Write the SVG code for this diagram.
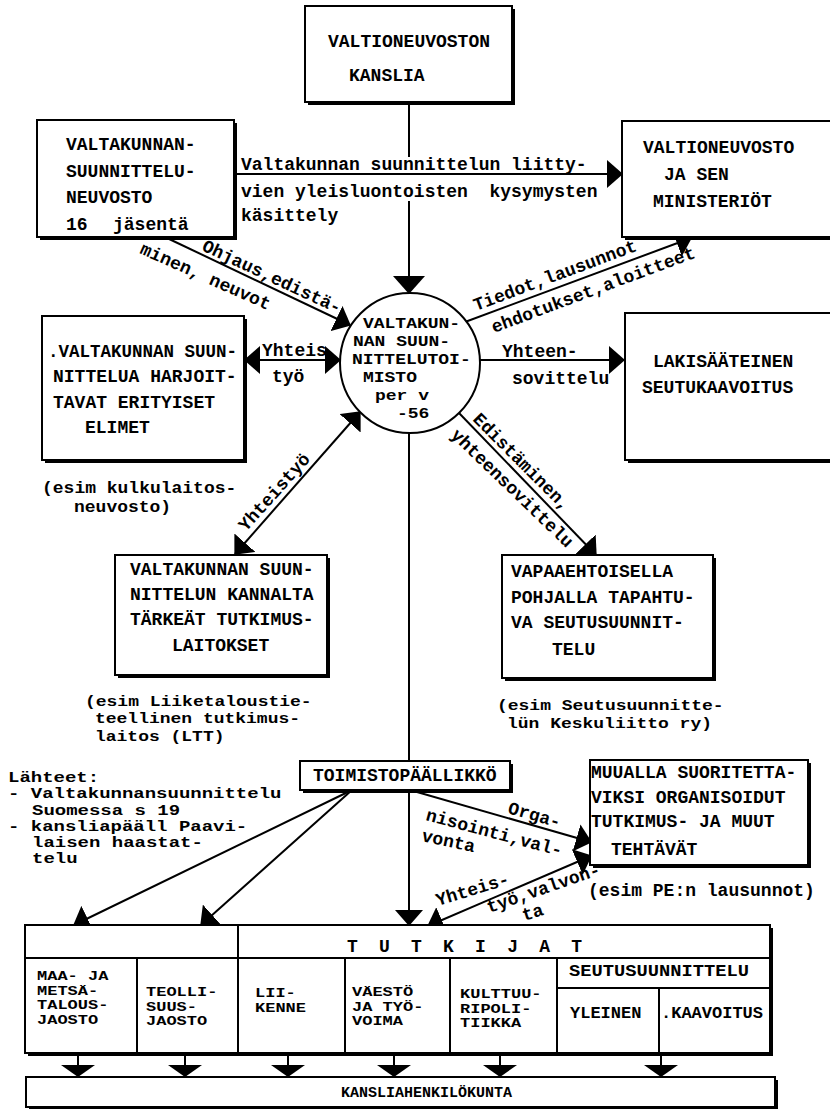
<svg xmlns="http://www.w3.org/2000/svg" width="830" height="1109" viewBox="0 0 830 1109">
<style>
.box{fill:#fff;stroke:#000;stroke-width:2}
.sh{fill:none;stroke:#000;stroke-width:4}
.ln{fill:none;stroke:#000;stroke-width:2}
.t{font-family:"Liberation Mono","DejaVu Sans Mono",monospace;font-weight:bold;font-size:18px;fill:#000;white-space:pre}
.s17{font-size:17px}
.s19{font-size:19px}
.s15{font-size:15px}
</style>
<defs>
<marker id="a" viewBox="0 0 16 28" refX="15" refY="14" markerWidth="16" markerHeight="28" markerUnits="userSpaceOnUse" orient="auto-start-reverse"><path d="M0,0 L16,14 L0,28 Z"/></marker>
<marker id="ab" viewBox="0 0 18 32" refX="17" refY="16" markerWidth="18" markerHeight="32" markerUnits="userSpaceOnUse" orient="auto-start-reverse"><path d="M0,0 L18,16 L0,32 Z"/></marker>
<marker id="af" viewBox="0 0 12 34" refX="12" refY="17" markerWidth="12" markerHeight="34" markerUnits="userSpaceOnUse" orient="auto"><path d="M0,0 L12,17 L0,34 Z"/></marker>
</defs>
<rect width="830" height="1109" fill="#fff"/>

<g id="connectors">
<path class="ln" d="M409,102 V157"/>
<path class="ln" d="M409,201 V293" marker-end="url(#ab)"/>
<path class="ln" d="M234,174 H622" marker-end="url(#a)"/>
<path class="ln" d="M167,238 L350,325" marker-end="url(#a)"/>
<path class="ln" d="M245,360 H340" marker-start="url(#a)" marker-end="url(#a)"/>
<path class="ln" d="M465,322 L691,238" marker-end="url(#a)"/>
<path class="ln" d="M480,360 H624" marker-end="url(#a)"/>
<path class="ln" d="M360,412 L235,554" marker-start="url(#a)" marker-end="url(#a)"/>
<path class="ln" d="M459,413 L596,555" marker-end="url(#a)"/>
<path class="ln" d="M409,433 V761"/>
<path class="ln" d="M409,790 V925" marker-end="url(#a)"/>
<path class="ln" d="M352,790 L74,925" marker-end="url(#a)"/>
<path class="ln" d="M352,790 L201,925" marker-end="url(#a)"/>
<path class="ln" d="M410,790 L591,842" marker-end="url(#a)"/>
<path class="ln" d="M591,856 L428,926" marker-start="url(#a)" marker-end="url(#a)"/>
<path class="ln" d="M78,1054 V1077" marker-end="url(#af)"/>
<path class="ln" d="M185,1054 V1077" marker-end="url(#af)"/>
<path class="ln" d="M288,1054 V1077" marker-end="url(#af)"/>
<path class="ln" d="M394,1054 V1077" marker-end="url(#af)"/>
<path class="ln" d="M500,1054 V1077" marker-end="url(#af)"/>
<path class="ln" d="M661,1054 V1077" marker-end="url(#af)"/>
</g>

<g id="connector-labels">
<text class="t" x="241" y="170">Valtakunnan suunnittelun liitty-</text>
<text class="t" x="241" y="197">vien yleisluontoisten  kysymysten</text>
<text class="t" x="241" y="221">käsittely</text>
<text class="t" transform="translate(201,250) rotate(25)">Ohjaus,edistä-</text>
<text class="t" transform="translate(139,253) rotate(24)">minen, neuvot</text>
<text class="t" transform="translate(476,311) rotate(-20.5)">Tiedot,lausunnot</text>
<text class="t" transform="translate(494,333) rotate(-20.5)">ehdotukset,aloitteet</text>
<text class="t" x="262" y="356">Yhteis</text>
<text class="t" x="272" y="382">työ</text>
<text class="t" x="502" y="357">Yhteen-</text>
<text class="t" x="512" y="384">sovittelu</text>
<text class="t" transform="translate(246,532) rotate(-48)">Yhteistyö</text>
<text class="t" transform="translate(472,420) rotate(45)">Edistäminen,</text>
<text class="t" transform="translate(450,436) rotate(44)">yhteensovittelu</text>
<text class="t" transform="translate(507,813) rotate(16)">Orga-</text>
<text class="t" transform="translate(425,820) rotate(15)">nisointi,val-</text>
<text class="t" transform="translate(421,841) rotate(12)">vonta</text>
<text class="t" transform="translate(438,906) rotate(-17)">Yhteis-</text>
<text class="t" transform="translate(489,913) rotate(-19)">työ,valvon-</text>
<text class="t" transform="translate(524,921) rotate(-17)">ta</text>
</g>

<g id="n-kanslia">
<rect class="box" x="305" y="6" width="207" height="96"/>
<path class="sh" d="M513,9 V103 H308"/>
<text class="t" x="328" y="47">VALTIONEUVOSTON</text>
<text class="t" x="349" y="81">KANSLIA</text>
</g>

<g id="n-neuvosto">
<rect class="box" x="37" y="120" width="197" height="117"/>
<path class="sh" d="M235,123 V238 H40"/>
<text class="t" x="66" y="150">VALTAKUNNAN-</text>
<text class="t" x="66" y="177">SUUNNITTELU-</text>
<text class="t" x="66" y="203">NEUVOSTO</text>
<text class="t" y="230"><tspan x="66">16</tspan><tspan x="113">jäsentä</tspan></text>
</g>

<g id="n-ministeriot">
<rect class="box" x="622" y="121" width="218" height="116"/>
<path class="sh" d="M625,238 H840"/>
<text class="t" x="643" y="153">VALTIONEUVOSTO</text>
<text class="t" x="664" y="180">JA SEN</text>
<text class="t" x="653" y="207">MINISTERIÖT</text>
</g>

<g id="n-toimisto">
<circle cx="410" cy="363" r="70" fill="#fff" stroke="#000" stroke-width="2"/>
<text class="t" transform="translate(363,328) scale(1,0.86)">VALTAKUN-</text>
<text class="t" transform="translate(353,346) scale(1,0.86)">NAN SUUN-</text>
<text class="t" transform="translate(352,364) scale(1,0.86)">NITTELUTOI-</text>
<text class="t" transform="translate(363,382) scale(1,0.86)">MISTO</text>
<text class="t" transform="translate(375,400) scale(1,0.86)">per v</text>
<text class="t" transform="translate(397,418) scale(1,0.86)">-56</text>
</g>

<g id="n-elimet">
<rect class="box" x="42" y="316" width="202" height="144"/>
<path class="sh" d="M245,319 V461 H45"/>
<text class="t" style="font-size:17.5px" x="48" y="357">.VALTAKUNNAN SUUN-</text>
<text class="t" x="53" y="382">NITTELUA HARJOIT-</text>
<text class="t" x="53" y="408">TAVAT ERITYISET</text>
<text class="t" x="85" y="433">ELIMET</text>
</g>

<g id="n-seutukaavoitus">
<rect class="box" x="625" y="313" width="215" height="147"/>
<path class="sh" d="M628,461 H840"/>
<text class="t" x="653" y="367">LAKISÄÄTEINEN</text>
<text class="t" x="642" y="393">SEUTUKAAVOITUS</text>
</g>

<g id="note-kulku">
<text class="t" transform="translate(42,493) scale(1,0.9)">(esim kulkulaitos-</text>
<text class="t" transform="translate(74,512) scale(1,0.9)">neuvosto)</text>
</g>

<g id="n-tutkimuslaitokset">
<rect class="box" x="115" y="555" width="212" height="120"/>
<path class="sh" d="M328,558 V676 H118"/>
<text class="t" x="130" y="575">VALTAKUNNAN SUUN-</text>
<text class="t" x="130" y="600">NITTELUN KANNALTA</text>
<text class="t" x="130" y="625">TÄRKEÄT TUTKIMUS-</text>
<text class="t" x="172" y="651">LAITOKSET</text>
</g>

<g id="n-vapaaehtoinen">
<rect class="box" x="502" y="555" width="211" height="123"/>
<path class="sh" d="M714,558 V679 H505"/>
<text class="t" x="511" y="577">VAPAAEHTOISELLA</text>
<text class="t" x="511" y="603">POHJALLA TAPAHTU-</text>
<text class="t" x="511" y="628">VA SEUTUSUUNNIT-</text>
<text class="t" x="552" y="655">TELU</text>
</g>

<g id="notes">
<text class="t" transform="translate(85,706) scale(1,0.8)">(esim Liiketaloustie-</text>
<text class="t" transform="translate(95,723) scale(1,0.8)">teellinen tutkimus-</text>
<text class="t" transform="translate(95,741) scale(1,0.8)">laitos (LTT)</text>
<text class="t" transform="translate(497,710) scale(1,0.86)">(esim Seutusuunnitte-</text>
<text class="t" transform="translate(507,728) scale(1,0.86)">lün Keskuliitto ry)</text>
<text class="t s19" transform="translate(8,782) scale(1,0.75)">Lähteet:</text>
<text class="t s19" transform="translate(8,798) scale(1,0.75)">- Valtakunnansuunnittelu</text>
<text class="t s19" transform="translate(32,814.5) scale(1,0.75)">Suomessa s 19</text>
<text class="t s19" transform="translate(8,831) scale(1,0.75)">- kansliapääll Paavi-</text>
<text class="t s19" transform="translate(32,847) scale(1,0.75)">laisen haastat-</text>
<text class="t s19" transform="translate(32,863) scale(1,0.75)">telu</text>
<text class="t" x="588" y="896">(esim PE:n lausunnot)</text>
</g>

<g id="n-toimistopaallikko">
<rect class="box" x="300" y="761" width="210" height="29"/>
<path class="sh" d="M511,764 V791 H303"/>
<text class="t" x="313" y="781">TOIMISTOPÄÄLLIKKÖ</text>
</g>

<g id="n-muualla">
<rect class="box" x="590" y="760" width="218" height="105"/>
<path class="sh" d="M809,763 V866 H593"/>
<text class="t" x="591" y="778">MUUALLA SUORITETTA-</text>
<text class="t" x="591" y="803">VIKSI ORGANISOIDUT</text>
<text class="t" x="591" y="827">TUTKIMUS- JA MUUT</text>
<text class="t" x="611" y="855">TEHTÄVÄT</text>
</g>

<g id="n-tutkijat">
<rect class="box" x="25" y="925" width="745" height="128"/>
<path class="sh" d="M771,928 V1054 H28"/>
<path class="ln" d="M25,958 H770 M238,925 V1053 M137,958 V1053 M345,958 V1053 M450,958 V1053 M557,958 V1053 M557,988 H770 M659,988 V1053"/>
<text class="t" x="347" y="952" textLength="235" lengthAdjust="spacing">T U T K I J A T</text>
<text class="t s17" transform="translate(37,980) scale(1,0.74)">MAA- JA</text>
<text class="t s17" transform="translate(37,994.5) scale(1,0.74)">METSÄ-</text>
<text class="t s17" transform="translate(37,1009) scale(1,0.74)">TALOUS-</text>
<text class="t s17" transform="translate(37,1023.5) scale(1,0.74)">JAOSTO</text>
<text class="t s17" transform="translate(146,996) scale(1,0.74)">TEOLLI-</text>
<text class="t s17" transform="translate(146,1010.5) scale(1,0.74)">SUUS-</text>
<text class="t s17" transform="translate(146,1025) scale(1,0.74)">JAOSTO</text>
<text class="t s17" transform="translate(255,997) scale(1,0.74)">LII-</text>
<text class="t s17" transform="translate(255,1011.5) scale(1,0.74)">KENNE</text>
<text class="t s17" transform="translate(352,996) scale(1,0.74)">VÄESTÖ</text>
<text class="t s17" transform="translate(352,1010.5) scale(1,0.74)">JA TYÖ-</text>
<text class="t s17" transform="translate(352,1025) scale(1,0.74)">VOIMA</text>
<text class="t s17" transform="translate(460,998) scale(1,0.74)">KULTTUU-</text>
<text class="t s17" transform="translate(460,1012.5) scale(1,0.74)">RIPOLI-</text>
<text class="t s17" transform="translate(460,1027) scale(1,0.74)">TIIKKA</text>
<text class="t s17" x="569" y="976" textLength="180" lengthAdjust="spacingAndGlyphs">SEUTUSUUNNITTELU</text>
<text class="t s17" x="570" y="1018">YLEINEN</text>
<text class="t s17" x="661" y="1018">.KAAVOITUS</text>
</g>

<g id="n-kansliahenkilokunta">
<rect class="box" x="26" y="1077" width="749" height="30"/>
<path class="sh" d="M776,1080 V1108 H29"/>
<text class="t s15" x="341" y="1097">KANSLIAHENKILÖKUNTA</text>
</g>
</svg>
